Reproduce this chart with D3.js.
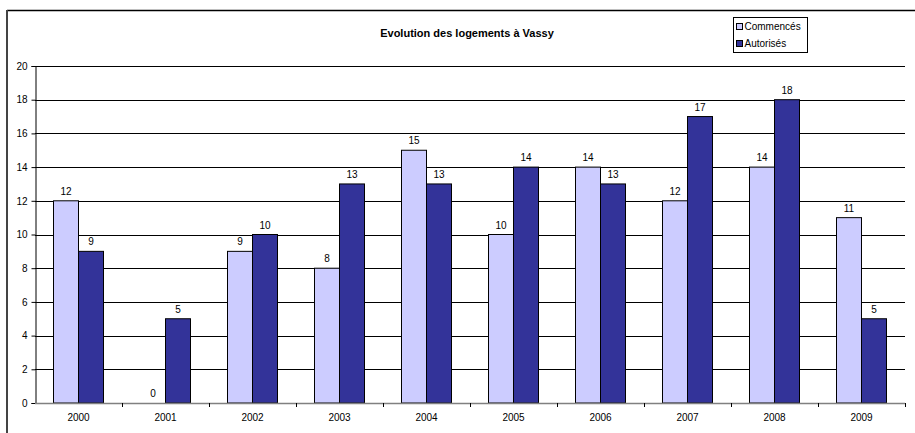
<!DOCTYPE html>
<html><head><meta charset="utf-8">
<script src="https://cdn.jsdelivr.net/npm/d3@7"></script>
<style>body{margin:0;background:#fff}svg{display:block;font-family:"Liberation Sans",Arial,sans-serif}</style>
</head><body>
<script>
const years = ["2000","2001","2002","2003","2004","2005","2006","2007","2008","2009"];
const commences = [12,0,9,8,15,10,14,12,14,11];
const autorises = [9,5,10,13,13,14,13,17,18,5];
const seriesNames = ["Commencés","Autorisés"];
const colors = ["#CCCCFF","#333399"];
const yTicks = [0,2,4,6,8,10,12,14,16,18,20];
const title = "Evolution des logements à Vassy";

const W=915,H=433;
const svg=d3.select("body").append("svg").attr("width",W).attr("height",H);
// outer frame
svg.append("line").attr("x1",7).attr("x2",W).attr("y1",10.5).attr("y2",10.5).attr("stroke","#000").attr("stroke-width",1.5);
svg.append("line").attr("x1",7).attr("x2",7).attr("y1",10).attr("y2",H).attr("stroke","#444").attr("stroke-width",2);

const m={l:35,r:905,t:66,b:403};
const x=d3.scaleBand().domain(years).range([m.l,m.r]);
const y=d3.scaleLinear().domain([0,20]).range([m.b,m.t]);
const x1=d3.scaleBand().domain(seriesNames).range([18,68]);

// gridlines
svg.append("g").selectAll("line").data(yTicks.filter(d=>d>0)).join("line")
 .attr("x1",m.l).attr("x2",m.r).attr("y1",d=>Math.round(y(d))+0.5).attr("y2",d=>Math.round(y(d))+0.5)
 .attr("stroke","#000").attr("stroke-width",1);

// y axis
const ya=svg.append("g").attr("transform",`translate(${m.l+0.5},0)`)
 .call(d3.axisLeft(y).tickValues(yTicks).tickSize(4).tickPadding(4).tickFormat(d3.format("d")));
ya.select(".domain").attr("stroke","#000");
ya.selectAll(".tick line").attr("stroke","#000");
ya.selectAll("text").attr("font-size",10).attr("fill","#000").attr("font-family","Liberation Sans, Arial, sans-serif");

// bars
const data=years.map((yr,i)=>({yr,vals:[commences[i],autorises[i]]}));
const g=svg.append("g").selectAll("g").data(data).join("g").attr("transform",d=>`translate(${x(d.yr)},0)`);
g.selectAll("rect").data(d=>d.vals.map((v,j)=>({v,s:seriesNames[j],c:colors[j]}))).join("rect")
 .attr("x",d=>x1(d.s)+0.5).attr("width",x1.bandwidth())
 .attr("y",d=>y(d.v)).attr("height",d=>y(0)-y(d.v))
 .attr("fill",d=>d.c).attr("stroke",d=>d.v>0?"#000":"none").attr("stroke-width",1);
g.selectAll("text").data(d=>d.vals.map((v,j)=>({v,s:seriesNames[j]}))).join("text")
 .attr("x",d=>x1(d.s)+x1.bandwidth()/2+0.5).attr("y",d=>y(d.v)-6)
 .attr("text-anchor","middle").attr("font-size",10).text(d=>d.v);

// x axis
const xa=svg.append("g").attr("transform",`translate(0,${m.b+0.5})`)
 .call(d3.axisBottom(x).tickSize(0).tickPadding(10));
xa.select(".domain").remove();
xa.selectAll("text").attr("font-size",10).attr("fill","#000").attr("font-family","Liberation Sans, Arial, sans-serif");
svg.append("line").attr("x1",m.l).attr("x2",m.r).attr("y1",m.b+0.5).attr("y2",m.b+0.5).attr("stroke","#808080").attr("stroke-width",1.5);
svg.append("g").selectAll("line").data(years.map(d=>x(d)+x.bandwidth())).join("line")
 .attr("x1",d=>Math.round(d)+0.5).attr("x2",d=>Math.round(d)+0.5).attr("y1",m.b).attr("y2",m.b+4).attr("stroke","#000");

// title
svg.append("text").attr("x",467).attr("y",37).attr("text-anchor","middle").attr("font-size",11).attr("font-weight","bold").text(title);

// legend
const lg=svg.append("g").attr("transform","translate(733.5,17.5)");
lg.append("rect").attr("width",74).attr("height",35).attr("fill","#fff").attr("stroke","#000");
seriesNames.forEach((s,i)=>{
 lg.append("rect").attr("x",3).attr("y",6+i*17).attr("width",6).attr("height",6).attr("fill",colors[i]).attr("stroke","#000");
 lg.append("text").attr("x",11).attr("y",12+i*17).attr("font-size",10).text(s);
});
</script>
</body></html>
